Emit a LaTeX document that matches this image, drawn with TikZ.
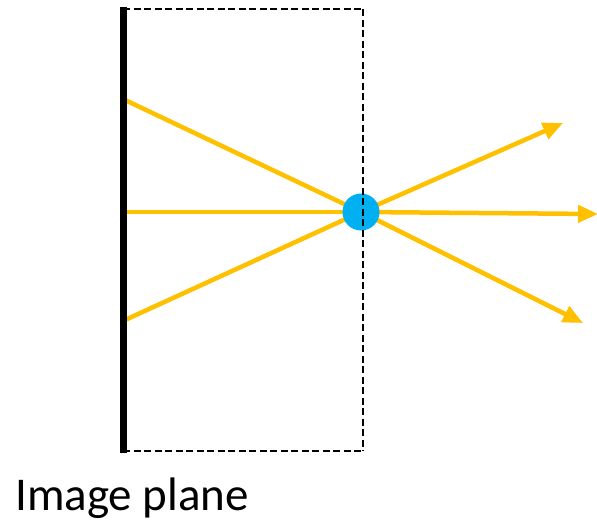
\documentclass[tikz,border=0pt]{standalone}
\usepackage{fontspec}
\setmainfont{Carlito}
\usetikzlibrary{arrows.meta}
\definecolor{ray}{HTML}{FFC000}
\definecolor{hole}{HTML}{00B0F0}
\tikzset{
  raylinestyle/.style={draw=ray, line width=4.5pt},
  rayarrow/.style={raylinestyle, -{Triangle[length=20pt,width=17pt]}},
  boxline/.style={draw=black, line width=2pt, dash pattern=on 7pt off 3.5pt},
  planeline/.style={draw=black, line width=7pt},
  pinhole/.style={circle, fill=hole, inner sep=0pt, minimum size=37pt},
}
\begin{document}
\begin{tikzpicture}[x=1pt,y=-1pt]
\useasboundingbox (0,0) rectangle (597,523);
% coordinates
\coordinate (tl) at (123,9);
\coordinate (tr) at (363,9);
\coordinate (br) at (363,451);
\coordinate (bl) at (123,451);
\coordinate (ptop) at (123.5,7);
\coordinate (pbot) at (123.5,453);
\coordinate (in1) at (125,100);
\coordinate (in2) at (125,212);
\coordinate (in3) at (125,320);
\coordinate (out1) at (563,123);
\coordinate (out2) at (598,214);
\coordinate (out3) at (583,323);
\coordinate (pc) at (361,212);
% dashed box (top, bottom)
\draw[boxline] (tl) -- (tr);
\draw[boxline] (bl) -- (br);
% rays
\draw[raylinestyle] (in1) -- (pc);
\draw[raylinestyle] (in2) -- (pc);
\draw[raylinestyle] (in3) -- (pc);
\draw[rayarrow] (pc) -- (out1);
\draw[rayarrow] (pc) -- (out2);
\draw[rayarrow] (pc) -- (out3);
% pinhole on top
\node[pinhole] (pin) at (pc) {};
% right dashed side
\draw[boxline] (tr) -- (br);
% image plane
\draw[planeline] (ptop) -- (pbot);
\node[anchor=base west, inner sep=0pt, font=\fontsize{47}{56}\selectfont] (label) at (15,510) {Image plane};
\end{tikzpicture}
\end{document}
